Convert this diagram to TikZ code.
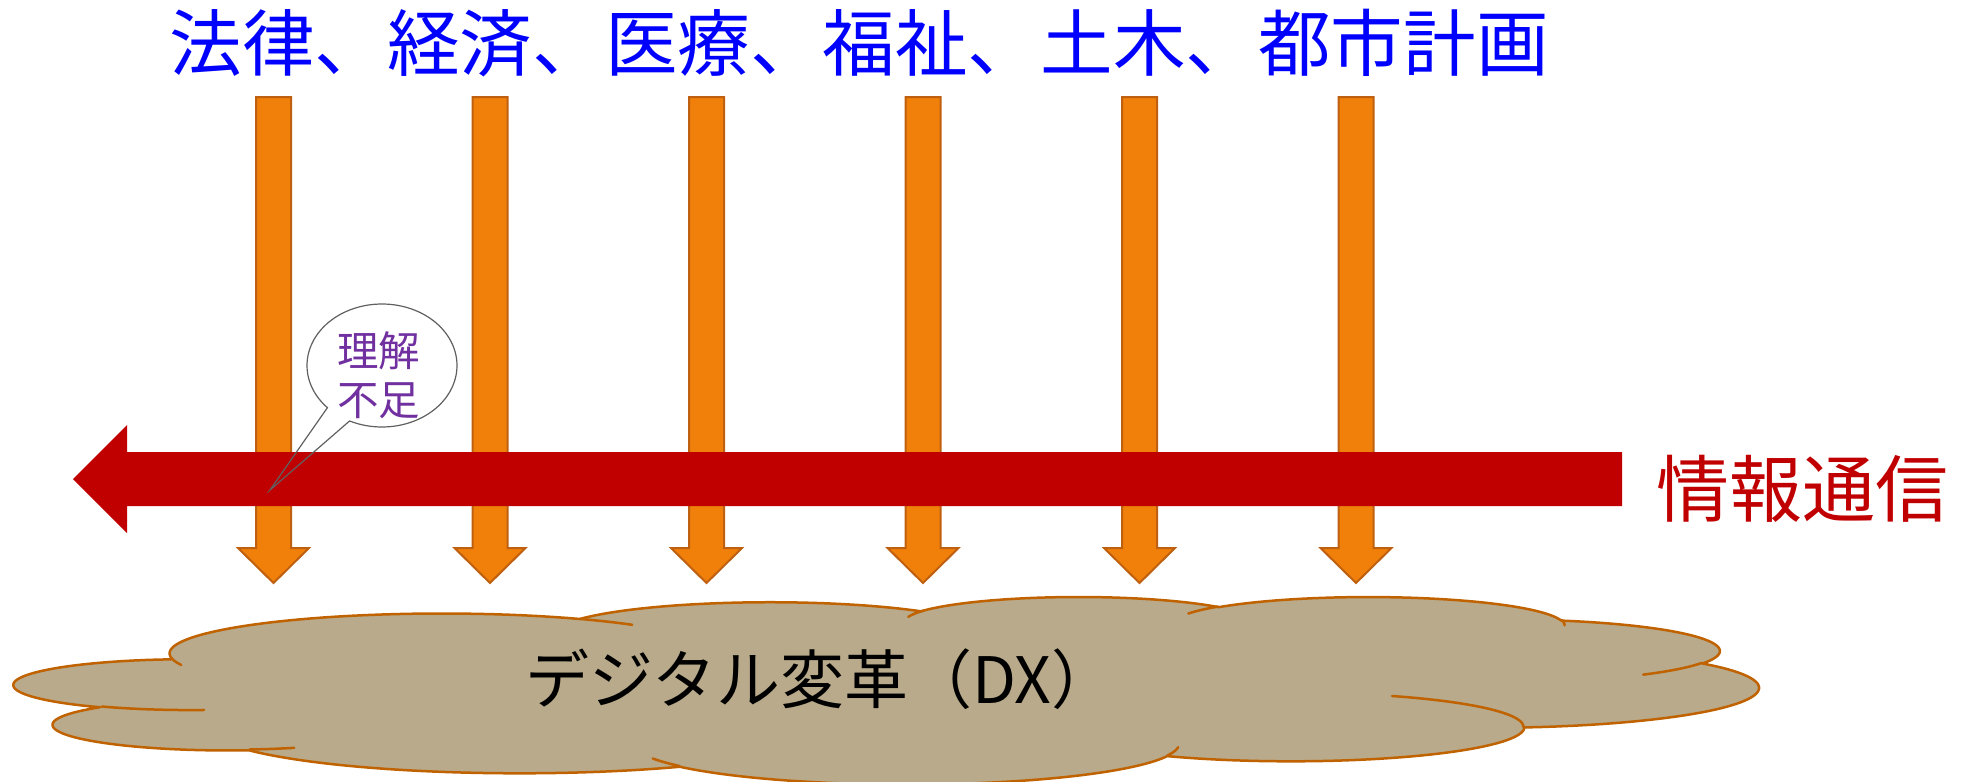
\documentclass[tikz,border=0pt]{standalone}
\usepackage{fontspec}
\newfontfamily\jp{Noto Sans CJK JP}
\definecolor{topblue}{RGB}{0,0,255}
\definecolor{darkred}{RGB}{192,0,0}
\definecolor{arroworange}{RGB}{240,128,10}
\definecolor{arrowedge}{RGB}{190,96,16}
\definecolor{cloudfill}{RGB}{184,170,138}
\definecolor{cloudedge}{RGB}{192,98,0}
\definecolor{calloutpurple}{RGB}{112,48,160}
\definecolor{calloutedge}{RGB}{96,96,96}
\tikzset{
  downarrow/.style={fill=arroworange, draw=arrowedge, line width=1pt, line join=miter},
  infoarrow/.style={fill=darkred},
  cloudshape/.style={fill=cloudfill, draw=cloudedge, line width=1.25pt, line join=round},
  cloudinner/.style={draw=cloudedge, line width=1.25pt, line cap=round},
  callout/.style={draw=calloutedge, line width=0.6pt, line join=miter},
  toplabel/.style={inner sep=0pt, text=topblue, font=\jp\fontsize{36.3pt}{40pt}\selectfont},
  infolabel/.style={inner sep=0pt, text=darkred, font=\jp\fontsize{36.5pt}{40pt}\selectfont},
  dxlabel/.style={inner sep=0pt, text=black, font=\jp\fontsize{32pt}{36pt}\selectfont},
  calloutlabel/.style={inner sep=0pt, text=calloutpurple, font=\jp\fontsize{20.75pt}{24pt}\selectfont}
}
% PowerPoint cloud preset, units of 1/1000 of the 43200 grid
\def\cloudouter{6.753/9.190/-190.48748/123.78053, 5.333/7.267/-144.10238/89.94523, 4.365/5.945/-145.80792/99.72302, 4.857/6.595/-130.98607/117.24173, 5.333/7.273/-78.70888/109.02692, 6.775/9.220/-46.26725/130.269, 5.785/7.867/0.62502/114.03333, 6.752/9.215/22.4516/115.17255, 7.720/10.543/66.24263/75.71102, 4.360/5.918/-274.94208/146.73557, 4.345/5.945/-246.8285/152.51885}
\def\cloudinnerdata{4.693/26.177/4.345/5.945/86.742/26.4295, 6.928/34.899/4.360/5.918/73.61047/11.44747, 16.478/39.090/6.752/9.215/137.62415/14.0811, 28.827/34.751/6.752/9.215/6.45327/15.99835, 34.129/22.954/5.785/7.867/-70.29235/70.91737, 41.798/15.354/5.333/7.273/30.31803/27.7515, 38.324/5.426/4.857/6.595/-13.74433/14.8589, 29.078/3.952/4.857/6.595/-149.18145/18.19537, 22.141/4.720/4.365/5.945/-163.49427/17.68635, 14.000/5.192/6.753/9.190/-66.70695/12.31935, 4.127/15.789/6.753/9.190/157.65435/11.85817}
\begin{document}
\begin{tikzpicture}[x=0.5pt,y=-0.5pt]
\useasboundingbox (0,0) rectangle (1972,782);

% cloud
\begin{scope}[shift={(7.325pt,-298.2pt)}, x=20.18pt, y=-2.1695pt]
  \xdef\clPX{3.9}\xdef\clPY{14.37}
  \gdef\cloudpath{}
  \foreach \clA/\clB/\clS/\clW in \cloudouter {
    \pgfmathsetmacro\clR{\clA*\clB/veclen(\clB*cos(\clS),\clA*sin(\clS))}
    \pgfmathsetmacro\clCX{\clPX-\clR*cos(\clS)}
    \pgfmathsetmacro\clCY{\clPY-\clR*sin(\clS)}
    \pgfmathsetmacro\clE{\clS+\clW}
    \pgfmathsetmacro\clRE{\clA*\clB/veclen(\clB*cos(\clE),\clA*sin(\clE))}
    \pgfmathsetmacro\clNX{\clCX+\clRE*cos(\clE)}
    \pgfmathsetmacro\clNY{\clCY+\clRE*sin(\clE)}
    \xdef\clPX{\clNX}\xdef\clPY{\clNY}
    \xdef\cloudpath{\unexpanded\expandafter{\cloudpath} -- plot[domain=\clS:\clE,samples=50] ({\clCX+\clA*\clB/veclen(\clB*cos(\noexpand\x),\clA*sin(\noexpand\x))*cos(\noexpand\x)},{\clCY+\clA*\clB/veclen(\clB*cos(\noexpand\x),\clA*sin(\noexpand\x))*sin(\noexpand\x)})}
  }
  \path[cloudshape] (3.9,14.37) \cloudpath -- cycle;
  \gdef\cloudinnerpath{}
  \foreach \clQX/\clQY/\clA/\clB/\clS/\clW in \cloudinnerdata {
    \pgfmathsetmacro\clR{\clA*\clB/veclen(\clB*cos(\clS),\clA*sin(\clS))}
    \pgfmathsetmacro\clCX{\clQX-\clR*cos(\clS)}
    \pgfmathsetmacro\clCY{\clQY-\clR*sin(\clS)}
    \pgfmathsetmacro\clE{\clS+\clW}
    \xdef\cloudinnerpath{\unexpanded\expandafter{\cloudinnerpath} plot[domain=\clS:\clE,samples=30] ({\clCX+\clA*\clB/veclen(\clB*cos(\noexpand\x),\clA*sin(\noexpand\x))*cos(\noexpand\x)},{\clCY+\clA*\clB/veclen(\clB*cos(\noexpand\x),\clA*sin(\noexpand\x))*sin(\noexpand\x)})}
  }
  \path[cloudinner] \cloudinnerpath;
\end{scope}
\node[dxlabel, anchor=base west] (dx) at (525,703) {デジタル変革（DX）};

% downward arrows
\foreach \c in {273.5,490,706.5,923,1139.5,1356} {
  \path[downarrow] (\c-17.5,97) -- (\c+17.5,97) -- (\c+17.5,548) -- (\c+35.5,548)
    -- (\c,583) -- (\c-35.5,548) -- (\c-17.5,548) -- cycle;
}

% information arrow
\path[infoarrow] (73,479) -- (127,425) -- (127,452) -- (1622,452) -- (1622,506)
  -- (127,506) -- (127,533) -- cycle;

% callout
\draw[callout] plot[domain=136.7:475.6, samples=120] ({382+75*cos(\x)},{365.5+61.5*sin(\x)}) -- (270,490) -- cycle;
\node[calloutlabel, anchor=base] (lack1) at (378.5,366) {理解};
\node[calloutlabel, anchor=base] (lack2) at (378.5,415) {不足};

% labels
\node[toplabel, anchor=base west] (fields) at (169,70) {法律、経済、医療、福祉、土木、都市計画};
\node[infolabel, anchor=base west] (ict) at (1656,516) {情報通信};
\end{tikzpicture}
\end{document}
